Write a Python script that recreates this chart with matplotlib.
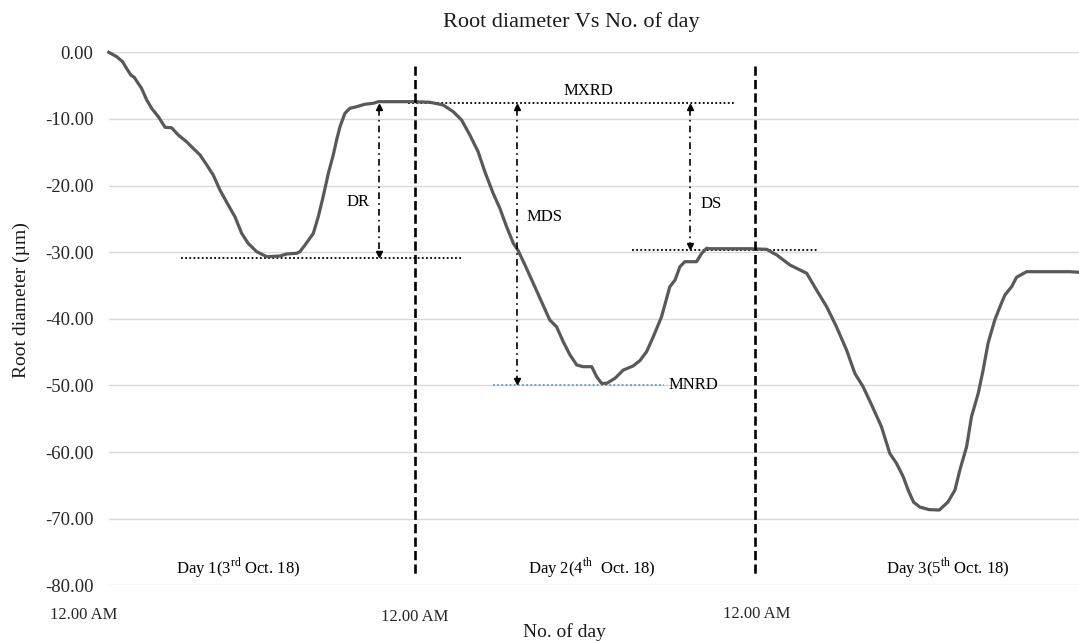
import numpy as np
import matplotlib
matplotlib.use("Agg")
import matplotlib.pyplot as plt
import matplotlib.transforms as mtransforms

plt.rcParams["font.family"] = ["Liberation Serif", "DejaVu Serif"]
plt.rcParams["mathtext.fontset"] = "custom"
plt.rcParams["mathtext.rm"] = "Liberation Serif"

# reading number (logger samples) and root diameter change (um)
reading = [0, 2.6, 4.5, 5.8, 7.2, 8.3, 10.7, 12.4, 14.0, 16.2, 18.4, 20.5, 22.7, 25.4,
           28.1, 29.8, 32.0, 34.1, 36.3, 39.0, 41.2, 43.4, 45.5, 48.3, 51.6, 55.9,
           58.1, 61.3, 62.4, 64.1, 66.8, 68.4, 70.0, 71.7, 73.3, 74.4, 75.5, 77.1,
           78.7, 80.9, 83.6, 86.4, 88.0, 91.8, 99.4, 104.9, 109.2, 112.5, 115.2,
           117.9, 120.6, 122.8, 125.5, 127.7, 129.9, 132.1, 133.7, 135.9, 138.6,
           141.3, 144.0, 146.2, 148.4, 150.6, 152.8, 154.9, 157.7, 159.3, 160.9,
           162.6, 165.3, 168.0, 171.2, 173.4, 175.6, 177.8, 180.5, 183.2, 184.9,
           186.5, 188.1, 191.9, 193.6, 195.2, 196.3, 209.3, 214.8, 218.1, 222.4,
           227.9, 231.1, 234.4, 237.6, 240.9, 243.6, 246.3, 249.1, 252.3, 255.0,
           257.2, 259.4, 261.0, 262.8, 264.8, 267.8, 271.2, 274.0, 276.3, 277.9,
           280.1, 281.7, 283.9, 285.5, 287.1, 289.3, 291.0, 292.6, 294.8, 296.4,
           299.7, 313.8, 316.8]
diameter = [0.0, -0.66, -1.41, -2.40, -3.41, -3.75, -5.40, -7.16, -8.41, -9.67, -11.26,
            -11.32, -12.41, -13.42, -14.66, -15.41, -16.91, -18.41, -20.66, -22.92,
            -24.68, -27.17, -28.67, -29.93, -30.68, -30.57, -30.27, -30.17, -29.93,
            -28.92, -27.17, -24.68, -21.67, -18.16, -15.41, -13.16, -11.17, -9.16,
            -8.41, -8.17, -7.80, -7.65, -7.41, -7.41, -7.41, -7.50, -7.91, -8.92,
            -10.16, -12.41, -14.92, -17.92, -21.16, -23.41, -26.18, -28.67, -29.78,
            -31.92, -34.67, -37.43, -40.18, -41.19, -43.44, -45.43, -46.93, -47.19,
            -47.19, -48.69, -49.68, -49.68, -48.93, -47.69, -47.08, -46.29, -44.94,
            -42.69, -39.68, -35.18, -34.18, -32.18, -31.43, -31.43, -30.17, -29.42,
            -29.48, -29.48, -29.57, -30.42, -31.92, -33.17, -35.68, -38.18, -41.19,
            -44.68, -48.18, -50.19, -52.94, -56.20, -60.19, -61.69, -63.70, -65.70,
            -67.53, -68.25, -68.64, -68.70, -67.50, -65.70, -62.70, -59.20, -54.69,
            -51.18, -47.69, -43.68, -40.18, -38.18, -36.43, -35.18, -33.77, -32.93,
            -32.93, -33.02]

midnight = [0, 100, 211]
midnight_labels = ["12.00 AM", "12.00 AM", "12.00 AM"]
day_centers = [42.4, 157.7, 274.1]
day_labels = ["Day 1(3$^{\\mathrm{rd}}$ Oct. 18)",
              "Day 2(4$^{\\mathrm{th}}$  Oct. 18)",
              "Day 3(5$^{\\mathrm{th}}$ Oct. 18)"]

mxrd = -7.55
dr_low = -30.85
ds_low = -29.6
mnrd = -49.9

fig = plt.figure(figsize=(10.79, 6.41), dpi=100)
ax = fig.add_axes([0.1008, 0.0869, 0.8992, 0.8315])

ax.plot(reading, diameter, color="#595959", lw=2.3, clip_on=False, zorder=3)

ax.set_xlim(0, 316.8)
ax.set_ylim(-80, 0)
ax.set_yticks(np.arange(-80, 1, 10))
ax.set_yticklabels([f"{v:.2f}" for v in np.arange(-80, 1, 10)])
ax.grid(axis="y", color="#d9d9d9", lw=1.0)
ax.set_axisbelow(True)
for s in ax.spines.values():
    s.set_visible(False)
ax.tick_params(axis="y", length=0, pad=11, labelsize=13.5, labelcolor="#262626")
ax.tick_params(axis="x", length=0, pad=17, labelsize=12, labelcolor="#262626")
ax.set_xticks(midnight)
ax.set_xticklabels(midnight_labels)
lbls = ax.get_xticklabels()
lbls[0].set_transform(lbls[0].get_transform() +
                      mtransforms.ScaledTranslation(-0.25, 0.015, fig.dpi_scale_trans))
lbls[2].set_transform(lbls[2].get_transform() +
                      mtransforms.ScaledTranslation(0.02, 0.03, fig.dpi_scale_trans))

fig.text(571 / 1079, 1 - 21.7 / 641, "Root diameter Vs No. of day", fontsize=16,
         ha="center", va="center", color="#1a1a1a")
fig.text(21 / 1079, 1 - 300.5 / 641, "Root diameter (µm)", fontsize=14,
         rotation=90, ha="center", va="center", color="#1a1a1a")
fig.text(564 / 1079, 1 - 632 / 641, "No. of day", fontsize=14,
         ha="center", va="center", color="#1a1a1a")

# day boundaries
for m in midnight[1:]:
    ax.plot([m, m], [-2.05, -78.45], color="black", lw=1.9, dashes=(3.5, 1.6), zorder=4)

dot = dict(color="black", lw=1.3, linestyle=(0, (1, 1.3)), zorder=2)
ax.plot([23.7, 115.5], [dr_low, dr_low], **dot)
ax.plot([97.7, 204.6], [mxrd, mxrd], **dot)
ax.plot([170.9, 231.6], [ds_low, ds_low], **dot)
ax.plot([125.4, 181.3], [mnrd, mnrd], color="#5b9bd5", lw=1.3,
        linestyle=(0, (1, 1.3)), zorder=2)


def span_arrow(x, top, bottom):
    ax.plot([x, x], [top - 0.9, bottom + 0.9], color="black", lw=1.2,
            dashes=(4, 2.5, 1, 2.5), zorder=4)
    ax.plot([x], [top - 0.6], marker="^", ms=5, color="black", zorder=4)
    ax.plot([x], [bottom + 0.6], marker="v", ms=5, color="black", zorder=4)


span_arrow(88.1, mxrd, dr_low)
span_arrow(133.3, mxrd, mnrd)
span_arrow(189.7, mxrd, ds_low)

ax.text(81.4, -22.4, "DR", fontsize=12, ha="center", va="center")
ax.text(142.4, -24.7, "MDS", fontsize=12, ha="center", va="center")
ax.text(196.8, -22.7, "DS", fontsize=12, ha="center", va="center")
ax.text(156.5, -5.8, "MXRD", fontsize=12, ha="center", va="center")
ax.text(182.9, mnrd, "MNRD", fontsize=12, ha="left", va="center")

for c, t in zip(day_centers, day_labels):
    ax.text(c, -77.3, t, fontsize=12, ha="center", va="center")

fig.savefig("out.png", dpi=100)
